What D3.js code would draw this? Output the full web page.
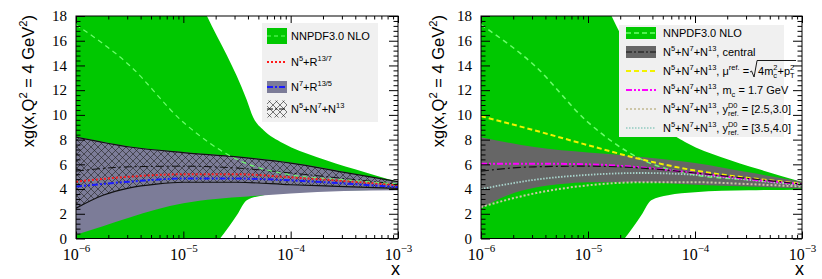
<!DOCTYPE html>
<html>
<head>
<meta charset="utf-8">
<script src="https://cdn.jsdelivr.net/npm/d3@7"></script>
<style>
    body { margin: 0; background: #fff; }
</style>
</head>
<body>
<svg id="chart" width="822" height="279"></svg>
<script>

// common x points for the smooth curves
var xGrid = [1e-6, 3.16e-6, 1e-5, 3.16e-5, 1e-4, 3.16e-4, 1e-3];

// NNPDF3.0 NLO band and central value
var nnpdfUpper = [[1e-6, 40], [3.16e-6, 31], [1e-5, 22], [1.66e-5, 18], [3.9e-5, 11.2], [4.47e-5, 9.8],
    [5.6e-5, 8.75], [8.5e-5, 7.7], [1.74e-4, 6.6], [3.98e-4, 5.6], [1e-3, 4.58]];
var nnpdfLower = [[1e-6, -12], [3.16e-6, -7], [1e-5, -3], [2.2e-5, 0], [3.16e-5, 1.9], [3.9e-5, 3.1],
    [5.6e-5, 3.5], [1e-4, 3.75], [3.16e-4, 3.9], [1e-3, 3.95]];
var nnpdfCentral = [17.3, 14.0, 9.4, 6.4, 5.15, 4.75, 4.4];

// N7+R13/5 band
var n7Upper = [8.25, 7.45, 7.0, 6.65, 6.15, 5.4, 4.55];
var n7Lower = [[1e-6, 0.3], [1.78e-6, 1.0], [3.16e-6, 1.7], [5.6e-6, 2.35], [1e-5, 2.85], [2e-5, 3.2],
    [4e-5, 3.4], [1e-4, 3.65], [3.16e-4, 3.85], [1e-3, 3.9]];

// N5+N7+N13 band (hatched on the left, grey on the right)
var allUpper = [8.2, 7.4, 6.95, 6.6, 6.1, 5.35, 4.6];
var allLower = [[1e-6, 2.45], [1.78e-6, 3.5], [3.16e-6, 4.1], [5.6e-6, 4.4], [1e-5, 4.55], [3.16e-5, 4.55],
    [1e-4, 4.35], [3.16e-4, 4.2], [1e-3, 4.05]];

// central lines
var allCentral = [5.45, 5.8, 5.85, 5.7, 5.3, 4.85, 4.4];
var n5Central = [4.6, 5.0, 5.2, 5.2, 4.95, 4.65, 4.3];
var n7Central = [4.2, 4.6, 4.85, 4.85, 4.7, 4.45, 4.15];

// variations (right panel)
var scaleVar = [9.9, 8.75, 7.55, 6.4, 5.5, 4.9, 4.45];
var mcVar = [6.05, 6.05, 6.0, 5.75, 5.3, 4.8, 4.4];
var yRef25 = [2.55, 3.65, 4.3, 4.55, 4.55, 4.4, 4.2];
var yRef35 = [4.0, 4.75, 5.15, 5.3, 5.15, 4.75, 4.3];

// ticks
var yTicks = d3.range(0, 19, 2);
var yMinor = d3.range(0, 45).map(d => d * 0.4).filter(d => d <= 18 && Math.abs(d / 2 - Math.round(d / 2)) > 0.01);
var xTicks = [1e-6, 1e-5, 1e-4, 1e-3];
var xExp = ['\u22126', '\u22125', '\u22124', '\u22123'];
var xMinor = [1e-6, 1e-5, 1e-4].flatMap(d => d3.range(2, 10).map(k => k * d));

var green = '#00c800';
var nnpdfLine = '#6bff6b';
var purple = '#7c7c98';
var grey = '#666666';
var sans = 'Liberation Sans, Arial, sans-serif';
var serif = 'Liberation Serif, Times New Roman, serif';

var svg = d3.select('#chart');
var defs = svg.append('defs');

defs.append('pattern')
    .attr('id', 'hatch')
    .attr('width', 7)
    .attr('height', 7)
    .attr('patternUnits', 'userSpaceOnUse')
    .append('path')
    .attr('d', 'M0,0L7,7M7,0L0,7')
    .attr('stroke', '#222')
    .attr('stroke-width', 0.6);

var measurer = svg.append('text').attr('x', -100).attr('y', -100).attr('font-family', sans);

function measure(s, size) {
    measurer.attr('font-size', size).text(s);
    return measurer.node().getComputedTextLength();
}

function pairs(ys) {
    return xGrid.map((x, i) => [x, ys[i]]);
}

// text with super / subscripts
function rich(text, parts, size) {
    var small = size * 0.68, rise = size * 0.42, drop = size * 0.28;
    var shift = 0, pendingDx = 0;
    parts.forEach(function(p) {
        if (typeof p === 'string') {
            text.append('tspan').attr('font-size', size).attr('dy', -shift).attr('dx', pendingDx).text(p);
            shift = 0;
            pendingDx = 0;
        } else if (p.sup != null && p.sub != null) {
            var w1 = measure(p.sup, small), w2 = measure(p.sub, small);
            text.append('tspan').attr('font-size', small).attr('dy', -rise - shift).attr('dx', pendingDx).text(p.sup);
            text.append('tspan').attr('font-size', small).attr('dy', rise + drop).attr('dx', -w1).text(p.sub);
            shift = drop;
            pendingDx = Math.max(0, w1 - w2);
        } else if (p.sup != null) {
            text.append('tspan').attr('font-size', small).attr('dy', -rise - shift).attr('dx', pendingDx).text(p.sup);
            shift = -rise;
            pendingDx = 0;
        } else {
            text.append('tspan').attr('font-size', small).attr('dy', drop - shift).attr('dx', pendingDx).text(p.sub);
            shift = drop;
            pendingDx = 0;
        }
    });
    return text;
}

var NNN = ['N', {sup: '5'}, '+N', {sup: '7'}, '+N', {sup: '13'}];

function panel(cfg) {

    var g = svg.append('g');

    var x = d3.scaleLog().domain([1e-6, 1e-3]).range([cfg.left, cfg.right]);
    var y = d3.scaleLinear().domain([0, 18]).range([cfg.bottom, cfg.top]);

    defs.append('clipPath')
        .attr('id', 'clip' + cfg.id)
        .append('rect')
        .attr('x', cfg.left)
        .attr('y', cfg.top)
        .attr('width', cfg.right - cfg.left)
        .attr('height', cfg.bottom - cfg.top);

    var plot = g.append('g').attr('clip-path', 'url(#clip' + cfg.id + ')');

    var line = d3.line()
        .x(d => x(d[0]))
        .y(d => y(d[1]))
        .curve(d3.curveMonotoneX);

    var band = function(up, lo) {
        return line(up) + line(lo.slice().reverse()).replace(/^M/, 'L') + 'Z';
    };

    var curve = function(data, color, width, dash) {
        plot.append('path')
            .attr('d', line(data))
            .attr('fill', 'none')
            .attr('stroke', color)
            .attr('stroke-width', width)
            .attr('stroke-dasharray', dash);
    };

    cfg.draw(plot, band, curve, line);

    // axes, ticks inward on all four sides
    var axes = g.append('g').attr('font-family', serif);

    var yAxis = function(gen, pos, size, values, labels) {
        axes.append('g')
            .attr('transform', 'translate(' + pos + ',0)')
            .call(gen(y).tickValues(values).tickSizeInner(-size).tickSizeOuter(0).tickPadding(9)
                .tickFormat(labels ? d3.format('d') : ''))
            .call(a => a.select('.domain').remove())
            .attr('font-family', serif)
            .attr('font-size', 15);
    };
    yAxis(d3.axisLeft, cfg.left, 9, yTicks, true);
    yAxis(d3.axisLeft, cfg.left, 4.5, yMinor, false);
    yAxis(d3.axisRight, cfg.right, 9, yTicks, false);
    yAxis(d3.axisRight, cfg.right, 4.5, yMinor, false);

    var xAxis = function(gen, pos, size, values, labels) {
        var a = axes.append('g')
            .attr('transform', 'translate(0,' + pos + ')')
            .call(gen(x).tickValues(values).tickSizeInner(-size).tickSizeOuter(0).tickFormat(labels ? () => '' : ''))
            .call(a => a.select('.domain').remove())
            .attr('font-family', serif)
            .attr('font-size', 15);
        if (labels) {
            a.selectAll('.tick text')
                .attr('y', 21.5)
                .attr('dy', 0)
                .attr('text-anchor', 'middle')
                .each(function(d, i) {
                    var t = d3.select(this);
                    t.append('tspan').attr('font-size', 16).text('10');
                    t.append('tspan').attr('font-size', 11).attr('dy', -8).text(xExp[i]);
                });
        }
    };
    xAxis(d3.axisBottom, cfg.bottom, 7, xTicks, true);
    xAxis(d3.axisBottom, cfg.bottom, 3.5, xMinor, false);
    xAxis(d3.axisTop, cfg.top, 7, xTicks, false);
    xAxis(d3.axisTop, cfg.top, 3.5, xMinor, false);

    g.append('rect')
        .attr('x', cfg.left)
        .attr('y', cfg.top)
        .attr('width', cfg.right - cfg.left)
        .attr('height', cfg.bottom - cfg.top)
        .attr('fill', 'none')
        .attr('stroke', '#000')
        .attr('stroke-width', 1);

    // axis titles
    var title = g.append('text')
        .attr('transform', 'translate(' + cfg.titleX + ',' + (cfg.top - 1) + ') rotate(-90)')
        .attr('text-anchor', 'end')
        .attr('font-family', sans);
    rich(title, ['xg(x,Q', {sup: '2'}, ' = 4 GeV', {sup: '2'}, ')'], 16.5);

    g.append('text')
        .attr('x', cfg.right + 2)
        .attr('y', 275)
        .attr('text-anchor', 'end')
        .attr('font-family', sans)
        .attr('font-size', 18)
        .text('x');

    // legend
    var lg = g.append('g').attr('font-family', sans);
    lg.append('rect')
        .attr('x', cfg.legend.x)
        .attr('y', cfg.legend.y)
        .attr('width', cfg.legend.w)
        .attr('height', cfg.legend.h)
        .attr('fill', '#f0f0f0');

    cfg.legend.entries.forEach(function(e, i) {
        var cy = cfg.legend.rows[i];
        var sx0 = cfg.legend.sx0, sx1 = cfg.legend.sx1;
        if (e.box) {
            lg.append('rect')
                .attr('x', sx0)
                .attr('y', cy - e.boxH / 2)
                .attr('width', sx1 - sx0)
                .attr('height', e.boxH)
                .attr('fill', e.box);
        }
        if (e.color) {
            lg.append('line')
                .attr('x1', sx0)
                .attr('x2', sx1)
                .attr('y1', cy)
                .attr('y2', cy)
                .attr('stroke', e.color)
                .attr('stroke-width', e.width)
                .attr('stroke-dasharray', e.dash);
        }
        var t = lg.append('text')
            .attr('x', cfg.legend.tx)
            .attr('y', cy + 4);
        rich(t, e.label, 11);
        if (e.sqrt) {
            var bb = t.node().getBBox();
            var sx = bb.x + bb.width + 1;
            lg.append('path')
                .attr('d', 'M' + sx + ',' + (cy + 1) + 'l1.5,-1l2.5,6l3,-16.5')
                .attr('fill', 'none')
                .attr('stroke', '#000')
                .attr('stroke-width', 0.9);
            var t2 = lg.append('text')
                .attr('x', sx + 8)
                .attr('y', cy + 4);
            rich(t2, e.sqrt, 11);
            var bb2 = t2.node().getBBox();
            lg.append('line')
                .attr('x1', sx + 7)
                .attr('x2', bb2.x + bb2.width + 1)
                .attr('y1', cy - 10.5)
                .attr('y2', cy - 10.5)
                .attr('stroke', '#000')
                .attr('stroke-width', 0.9);
        }
    });
}

panel({
    id: 'L',
    left: 76,
    right: 398,
    top: 16,
    bottom: 238.5,
    titleX: 33.5,
    draw: function(plot, band, curve) {
        plot.append('path').attr('d', band(nnpdfUpper, nnpdfLower)).attr('fill', green);
        plot.append('path').attr('d', band(pairs(n7Upper), n7Lower)).attr('fill', purple);
        plot.append('path').attr('d', band(pairs(allUpper), allLower)).attr('fill', 'url(#hatch)');
        curve(pairs(allUpper), '#111', 1.2, null);
        curve(allLower, '#111', 1.2, null);
        curve(pairs(allCentral), '#111', 1, '8,3,2,3');
        curve(pairs(nnpdfCentral), nnpdfLine, 1.2, '5,4');
        curve(pairs(n5Central), '#ff1a1a', 2, '2,2');
        curve(pairs(n7Central), '#1a1aff', 2, '6,2,2,2,2,2');
    },
    legend: {
        x: 262, y: 23, w: 116, h: 99,
        sx0: 267, sx1: 287, tx: 291,
        rows: [36, 62, 87, 109],
        entries: [
            {label: ['NNPDF3.0 NLO'], box: green, boxH: 16, color: nnpdfLine, width: 1, dash: '4,3'},
            {label: ['N', {sup: '5'}, '+R', {sup: '13/7'}], color: '#ff1a1a', width: 2, dash: '2,2'},
            {label: ['N', {sup: '7'}, '+R', {sup: '13/5'}], box: purple, boxH: 12, color: '#1a1aff', width: 2, dash: '6,2,2,2'},
            {label: NNN, box: 'url(#hatch)', boxH: 17, color: '#111', width: 1, dash: '6,2,2,2'}
        ]
    }
});

panel({
    id: 'R',
    left: 481,
    right: 802,
    top: 16,
    bottom: 238.5,
    titleX: 444,
    draw: function(plot, band, curve) {
        plot.append('path').attr('d', band(nnpdfUpper, nnpdfLower)).attr('fill', green);
        plot.append('path').attr('d', band(pairs(allUpper), allLower)).attr('fill', grey);
        curve(pairs(nnpdfCentral), nnpdfLine, 1.5, '5,4');
        curve(pairs(yRef35), '#a8d4cc', 1.8, '1.5,1.5');
        curve(pairs(yRef25), '#cdc6a8', 2, '2,2');
        curve(pairs(scaleVar), '#f2f200', 2, '5,3');
        curve(pairs(mcVar), '#ff00ff', 2, '6,2,2,2,2,2');
        curve(pairs(allCentral), '#111', 1.2, '8,3,2,3');
    },
    legend: {
        x: 619, y: 25, w: 165, h: 112,
        sx0: 626, sx1: 656, tx: 663,
        rows: [33, 52, 71, 90, 109, 128],
        entries: [
            {label: ['NNPDF3.0 NLO'], box: green, boxH: 12, color: nnpdfLine, width: 1.5, dash: '5,3'},
            {label: NNN.concat([', central']), box: grey, boxH: 12, color: '#111', width: 1.2, dash: '6,2,2,2'},
            {label: NNN.concat([', \u03bc', {sup: 'ref.'}, ' =']), color: '#f2f200', width: 2, dash: '5,3',
                sqrt: ['4m', {sup: '2', sub: 'c'}, '+p', {sup: '2', sub: 'T'}]},
            {label: NNN.concat([', m', {sub: 'c'}, ' = 1.7 GeV']), color: '#ff00ff', width: 2, dash: '6,2,2,2,2,2'},
            {label: NNN.concat([', y', {sup: 'D0', sub: 'ref.'}, ' = [2.5,3.0]']), color: '#cdc6a8', width: 2, dash: '2,2'},
            {label: NNN.concat([', y', {sup: 'D0', sub: 'ref.'}, ' = [3.5,4.0]']), color: '#a8d4cc', width: 1.8, dash: '1.5,1.5'}
        ]
    }
});

measurer.remove();

</script>
</body>
</html>
